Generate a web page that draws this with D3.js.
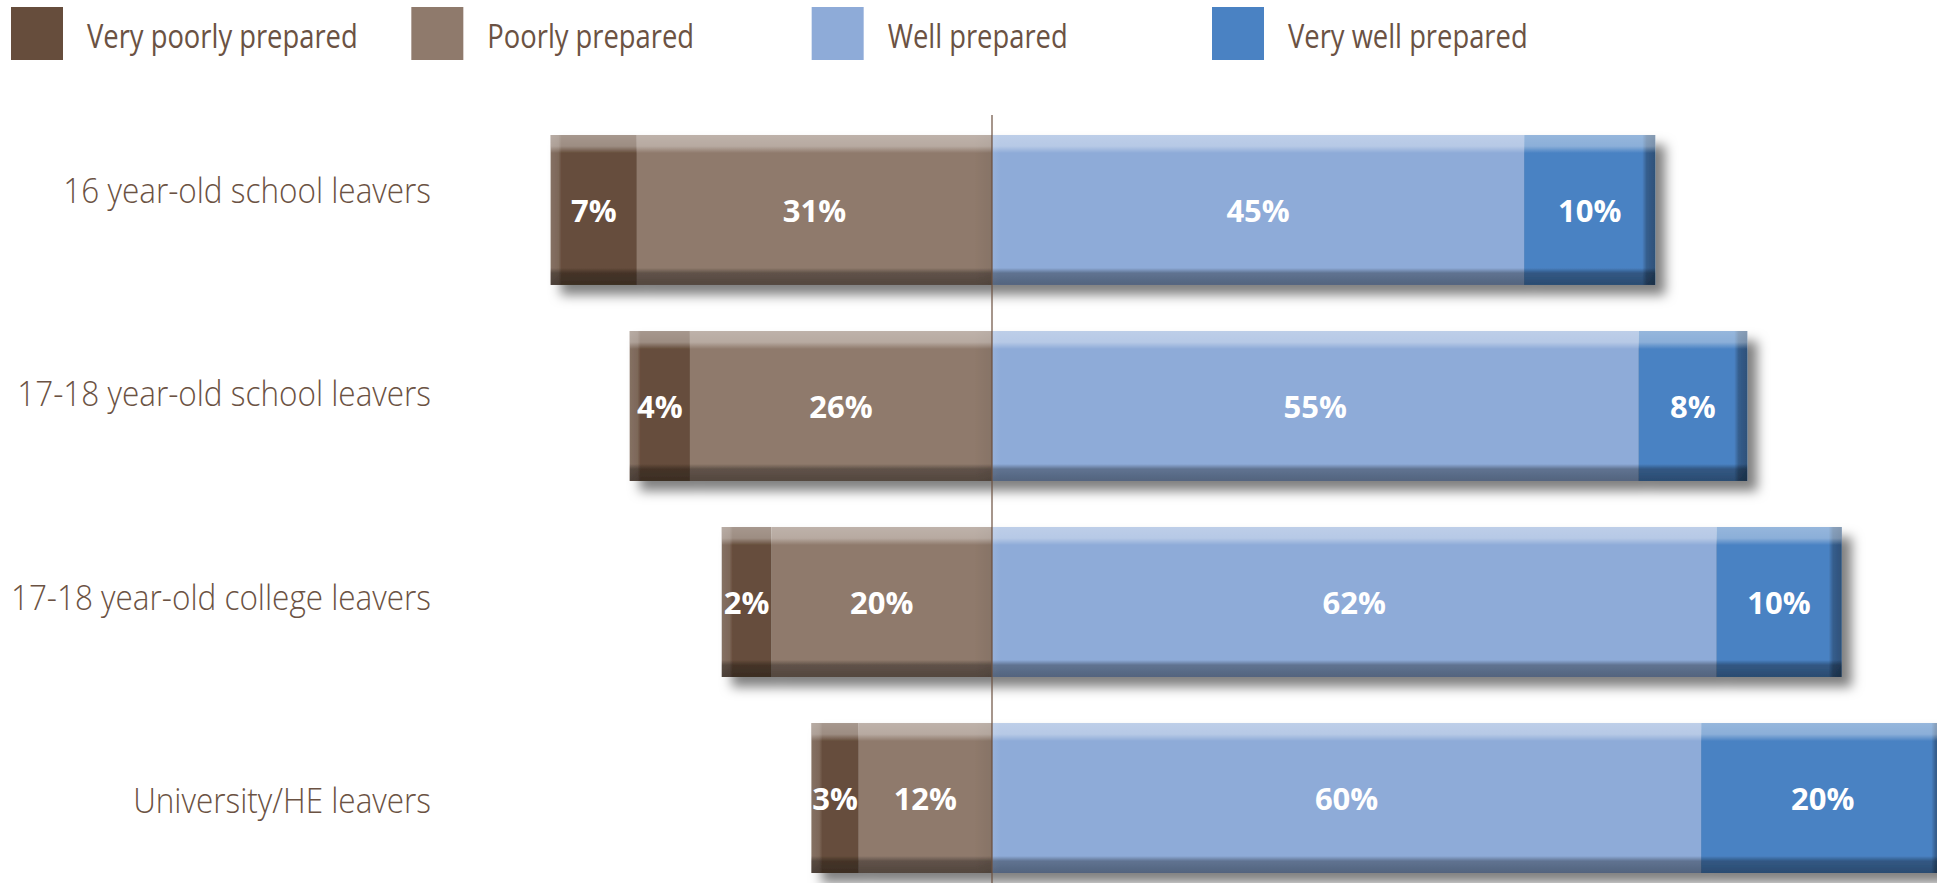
<!DOCTYPE html>
<html>
<head>
<meta charset="utf-8">
<script src="https://cdn.jsdelivr.net/npm/d3@7"></script>
<style>
  html, body { margin: 0; padding: 0; background: #ffffff; overflow: hidden; }
  svg { display: block; }
</style>
</head>
<body>
<svg id="chart" width="1937" height="883"></svg>
<script>
// ---- data ----
const categories = [
  "16 year-old school leavers",
  "17-18 year-old school leavers",
  "17-18 year-old college leavers",
  "University/HE leavers"
];
const seriesNames = ["Very poorly prepared", "Poorly prepared", "Well prepared", "Very well prepared"];
// segment lengths as drawn in the picture (percent)
const veryPoorly = [7.3, 5.1, 4.2, 4.0];
const poorly     = [30.1, 25.6, 18.7, 11.3];
const well       = [45.1, 54.8, 61.4, 60.1];
const veryWell   = [11.1, 9.2, 10.6, 20.6];
// printed data labels
const veryPoorlyLabels = [7, 4, 2, 3];
const poorlyLabels     = [31, 26, 20, 12];
const wellLabels       = [45, 55, 62, 60];
const veryWellLabels   = [10, 8, 10, 20];
const seriesColors = ["#664d3c", "#8f7a6c", "#8eabd8", "#4a82c3"];

// ---- layout ----
const W = 1937, H = 883;
const textColor = "#6b5243";
const svg = d3.select("#chart");

const x = d3.scaleLinear().domain([-40, 80]).range([520, 1936]);
const y = d3.scaleBand().domain(categories).range([135, 873]).paddingInner(0.235).paddingOuter(0).align(0);
const yLabel = d3.scalePoint().domain(categories).range([203, 813]);
const legendX = d3.scalePoint().domain(seriesNames).range([11, 1212]);

// ---- defs: gradients & shadow ----
const defs = svg.append("defs");
const filt = defs.append("filter").attr("id", "shadow")
  .attr("x", "-10%").attr("y", "-20%").attr("width", "130%").attr("height", "160%");
filt.append("feDropShadow").attr("dx", 10).attr("dy", 10).attr("stdDeviation", 6)
  .attr("flood-color", "#000").attr("flood-opacity", 0.5);

function grad(id, vertical, stops) {
  const g = defs.append("linearGradient").attr("id", id)
    .attr("x1", 0).attr("y1", 0).attr("x2", vertical ? 0 : 1).attr("y2", vertical ? 1 : 0);
  stops.forEach(s => g.append("stop").attr("offset", s[0]).attr("stop-color", s[1]).attr("stop-opacity", s[2]));
}
grad("topHi", true, [[0, "#fff", 0.42], [0.62, "#fff", 0.36], [1, "#fff", 0]]);
grad("botSh", true, [[0, "#000", 0], [0.3, "#000", 0.33], [1, "#000", 0.42]]);
grad("leftHi", false, [[0, "#fff", 0.2], [0.7, "#fff", 0.15], [1, "#fff", 0]]);
grad("rightSh", false, [[0, "#000", 0], [0.35, "#000", 0.28], [1, "#000", 0.38]]);
grad("rightSoft", false, [[0, "#000", 0], [1, "#000", 0.06]]);
grad("leftSoft", false, [[0, "#fff", 0.08], [1, "#fff", 0]]);

// ---- legend ----
const legend = svg.append("g");
seriesNames.forEach((name, i) => {
  const lx = legendX(name);
  legend.append("rect").attr("x", lx).attr("y", 7).attr("width", 52).attr("height", 53)
    .attr("fill", seriesColors[i]);
  legend.append("g").attr("transform", `translate(${lx + 76},48) scale(0.855,1)`)
    .append("text")
    .attr("font-family", "'Open Sans', sans-serif").attr("font-size", 32).attr("font-weight", 400)
    .attr("fill", textColor).text(name);
});

// ---- category labels ----
svg.append("g").selectAll("g").data(categories).join("g")
  .attr("transform", d => `translate(431,${yLabel(d)}) scale(0.9,1)`)
  .append("text")
  .attr("text-anchor", "end")
  .attr("font-family", "'Open Sans', sans-serif").attr("font-size", 35).attr("font-weight", 300)
  .attr("fill", textColor).text(d => d);

// ---- bars ----
const rows = categories.map((c, i) => {
  const segs = [
    { s: 0, x0: -(veryPoorly[i] + poorly[i]), x1: -poorly[i], lab: veryPoorlyLabels[i] },
    { s: 1, x0: -poorly[i], x1: 0, lab: poorlyLabels[i] },
    { s: 2, x0: 0, x1: well[i], lab: wellLabels[i] },
    { s: 3, x0: well[i], x1: well[i] + veryWell[i], lab: veryWellLabels[i] }
  ];
  return { c, segs, left: segs[0].x0, right: segs[3].x1 };
});

const bh = y.bandwidth();
const barG = svg.append("g").selectAll("g").data(rows).join("g")
  .attr("filter", "url(#shadow)");

barG.each(function (r) {
  const g = d3.select(this);
  const y0 = y(r.c);
  g.selectAll("rect.seg").data(r.segs).join("rect").attr("class", "seg")
    .attr("x", d => x(d.x0)).attr("y", y0)
    .attr("width", d => x(d.x1) - x(d.x0)).attr("height", bh)
    .attr("fill", d => seriesColors[d.s]);

  // bevel overlays for the two halves
  const halves = [[r.left, 0, true], [0, r.right, false]];
  halves.forEach(([a, b, isLeft]) => {
    const xa = x(a), xb = x(b), w = xb - xa;
    if (isLeft) {
      g.append("rect").attr("x", xa).attr("y", y0).attr("width", 11).attr("height", bh).attr("fill", "url(#leftHi)");
      g.append("rect").attr("x", xb - 18).attr("y", y0).attr("width", 18).attr("height", bh).attr("fill", "url(#rightSoft)");
    } else {
      g.append("rect").attr("x", xa).attr("y", y0).attr("width", 9).attr("height", bh).attr("fill", "url(#leftSoft)");
      g.append("rect").attr("x", xb - 13).attr("y", y0).attr("width", 13).attr("height", bh).attr("fill", "url(#rightSh)");
    }
    g.append("rect").attr("x", xa).attr("y", y0).attr("width", w).attr("height", 18).attr("fill", "url(#topHi)");
    g.append("rect").attr("x", xa).attr("y", y0 + bh - 17).attr("width", w).attr("height", 17).attr("fill", "url(#botSh)");
  });
});

// ---- value labels ----
const labG = svg.append("g");
rows.forEach(r => {
  labG.selectAll(null).data(r.segs).join("text")
    .attr("x", d => (x(d.x0) + x(d.x1)) / 2)
    .attr("y", y(r.c) + bh / 2 + 12)
    .attr("text-anchor", "middle")
    .attr("font-family", "'Open Sans', sans-serif").attr("font-size", 31).attr("font-weight", 700)
    .attr("fill", "#ffffff")
    .text(d => d.lab + "%");
});

// ---- centre line ----
svg.append("line")
  .attr("x1", x(0)).attr("x2", x(0)).attr("y1", 115).attr("y2", H)
  .attr("stroke", "#6b4f3f").attr("stroke-width", 1.2);
</script>
</body>
</html>
